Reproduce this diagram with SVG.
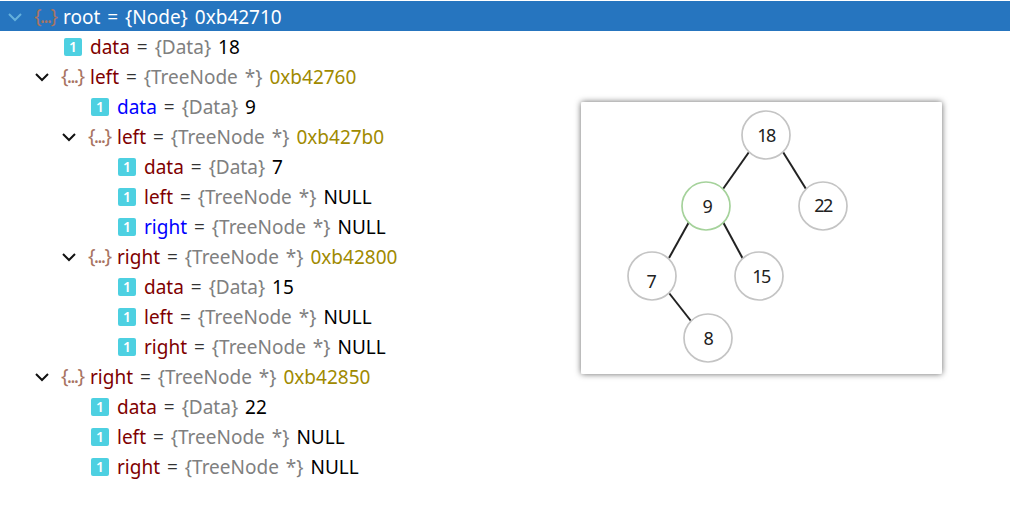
<svg xmlns="http://www.w3.org/2000/svg" width="1010" height="519" viewBox="0 0 1010 519">
<defs>
<style>
text.r{font-family:"Noto Sans","Open Sans","Liberation Sans",sans-serif;font-size:19px;word-spacing:2px}
.n{fill:#7f0000}.b{fill:#0000ff}.e{fill:#333}.t{fill:#808080}.v{fill:#000}.a{fill:#a08a00}
.chev{fill:none;stroke:#111;stroke-width:2}
.br{font-family:"Noto Sans",sans-serif;font-size:20px;fill:#a87463}
.ic{fill:#4dd0e1}
.ict{font-family:"Noto Sans",sans-serif;font-size:14px;font-weight:600;fill:#fff;text-anchor:middle}
.nc{fill:#fff;stroke:#c4c4c4;stroke-width:1.7}
.nt{font-family:"Noto Sans",sans-serif;font-size:18px;fill:#222;text-anchor:middle;letter-spacing:-1.5px}
.ed{stroke:#222;stroke-width:2;fill:none}
</style>
<symbol id="leaf" overflow="visible"><rect width="18" height="18" rx="2" class="ic"/><text x="9" y="14" class="ict">1</text></symbol>
<symbol id="obj" overflow="visible"><text x="0" y="15" class="br" textLength="24" lengthAdjust="spacing">{...}</text></symbol>
<filter id="sh" x="-5%" y="-5%" width="110%" height="110%"><feDropShadow dx="0" dy="0" stdDeviation="3" flood-color="#000" flood-opacity="0.6"/></filter>
</defs>
<rect width="1010" height="519" fill="#fff"/>
<g id="tree">
<rect x="0" y="1" width="1010" height="30" fill="#2675bf"/>
<path d="M9 14l6 6 6-6" fill="none" stroke="#64b0dc" stroke-width="2"/>
<use href="#obj" x="34" y="8"/>
<text class="r" x="63" y="24" fill="#fff">root = {Node} 0xb42710</text>

<use href="#leaf" x="64" y="38"/>
<text class="r" x="90" y="54"><tspan class="n">data</tspan><tspan class="e"> = </tspan><tspan class="t">{Data}</tspan><tspan class="v"> 18</tspan></text>

<path class="chev" d="M36 74l6 6 6-6"/><use href="#obj" x="61" y="68"/>
<text class="r" x="90" y="84"><tspan class="n">left</tspan><tspan class="e"> = </tspan><tspan class="t">{TreeNode *}</tspan><tspan class="a"> 0xb42760</tspan></text>

<use href="#leaf" x="91" y="98"/>
<text class="r" x="117" y="114"><tspan class="b">data</tspan><tspan class="e"> = </tspan><tspan class="t">{Data}</tspan><tspan class="v"> 9</tspan></text>

<path class="chev" d="M63 134l6 6 6-6"/><use href="#obj" x="88" y="128"/>
<text class="r" x="117" y="144"><tspan class="n">left</tspan><tspan class="e"> = </tspan><tspan class="t">{TreeNode *}</tspan><tspan class="a"> 0xb427b0</tspan></text>

<use href="#leaf" x="118" y="158"/>
<text class="r" x="144" y="174"><tspan class="n">data</tspan><tspan class="e"> = </tspan><tspan class="t">{Data}</tspan><tspan class="v"> 7</tspan></text>
<use href="#leaf" x="118" y="188"/>
<text class="r" x="144" y="204"><tspan class="n">left</tspan><tspan class="e"> = </tspan><tspan class="t">{TreeNode *}</tspan><tspan class="v"> NULL</tspan></text>
<use href="#leaf" x="118" y="218"/>
<text class="r" x="144" y="234"><tspan class="b">right</tspan><tspan class="e"> = </tspan><tspan class="t">{TreeNode *}</tspan><tspan class="v"> NULL</tspan></text>

<path class="chev" d="M63 254l6 6 6-6"/><use href="#obj" x="88" y="248"/>
<text class="r" x="117" y="264"><tspan class="n">right</tspan><tspan class="e"> = </tspan><tspan class="t">{TreeNode *}</tspan><tspan class="a"> 0xb42800</tspan></text>

<use href="#leaf" x="118" y="278"/>
<text class="r" x="144" y="294"><tspan class="n">data</tspan><tspan class="e"> = </tspan><tspan class="t">{Data}</tspan><tspan class="v"> 15</tspan></text>
<use href="#leaf" x="118" y="308"/>
<text class="r" x="144" y="324"><tspan class="n">left</tspan><tspan class="e"> = </tspan><tspan class="t">{TreeNode *}</tspan><tspan class="v"> NULL</tspan></text>
<use href="#leaf" x="118" y="338"/>
<text class="r" x="144" y="354"><tspan class="n">right</tspan><tspan class="e"> = </tspan><tspan class="t">{TreeNode *}</tspan><tspan class="v"> NULL</tspan></text>

<path class="chev" d="M36 374l6 6 6-6"/><use href="#obj" x="61" y="368"/>
<text class="r" x="90" y="384"><tspan class="n">right</tspan><tspan class="e"> = </tspan><tspan class="t">{TreeNode *}</tspan><tspan class="a"> 0xb42850</tspan></text>

<use href="#leaf" x="91" y="398"/>
<text class="r" x="117" y="414"><tspan class="n">data</tspan><tspan class="e"> = </tspan><tspan class="t">{Data}</tspan><tspan class="v"> 22</tspan></text>
<use href="#leaf" x="91" y="428"/>
<text class="r" x="117" y="444"><tspan class="n">left</tspan><tspan class="e"> = </tspan><tspan class="t">{TreeNode *}</tspan><tspan class="v"> NULL</tspan></text>
<use href="#leaf" x="91" y="458"/>
<text class="r" x="117" y="474"><tspan class="n">right</tspan><tspan class="e"> = </tspan><tspan class="t">{TreeNode *}</tspan><tspan class="v"> NULL</tspan></text>
</g>
<rect x="581" y="102" width="361" height="272" rx="2" fill="#fff" filter="url(#sh)"/>
<g id="connectors">
<line class="ed" x1="749" y1="152" x2="723" y2="189"/>
<line class="ed" x1="783" y1="152" x2="806" y2="189"/>
<line class="ed" x1="689" y1="222" x2="669" y2="258"/>
<line class="ed" x1="723" y1="222" x2="743" y2="259"/>
<line class="ed" x1="669" y1="293" x2="691" y2="321"/>
</g>
<g id="n18"><circle class="nc" cx="766" cy="135" r="24"/><text class="nt" x="766" y="142">18</text></g>
<g id="n9"><circle class="nc" style="stroke:#a5d29b" cx="706" cy="206" r="24"/><text class="nt" x="707" y="213">9</text></g>
<g id="n22"><circle class="nc" cx="823" cy="206" r="24"/><text class="nt" x="823" y="212">22</text></g>
<g id="n7"><circle class="nc" cx="652" cy="276" r="24"/><text class="nt" x="651" y="288">7</text></g>
<g id="n15"><circle class="nc" cx="759" cy="276" r="24"/><text class="nt" x="761" y="283">15</text></g>
<g id="n8"><circle class="nc" cx="708" cy="338" r="24"/><text class="nt" x="708" y="345">8</text></g>
</svg>
